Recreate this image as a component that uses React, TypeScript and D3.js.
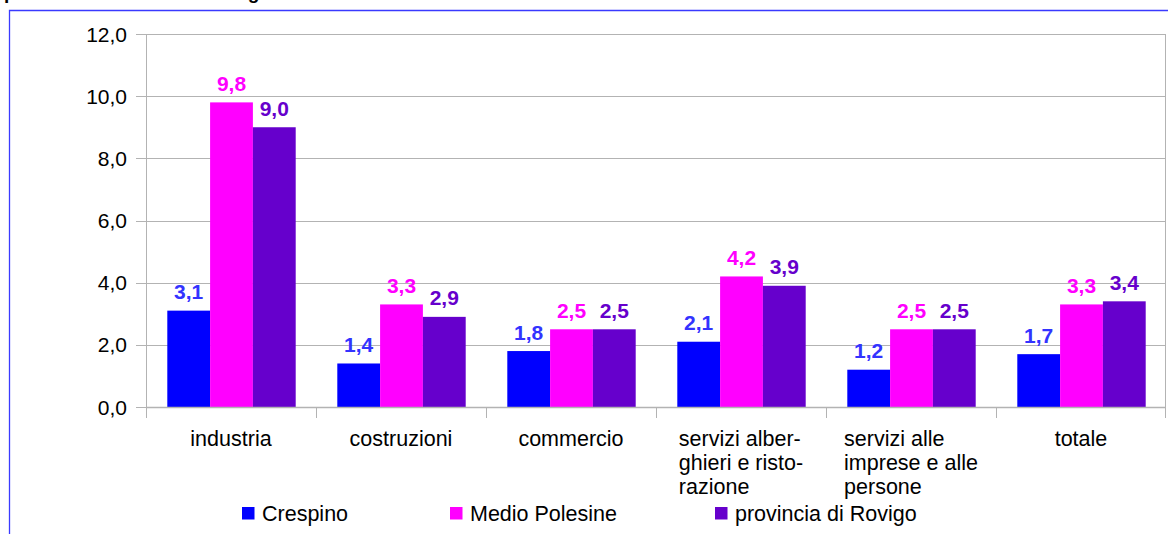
import { useEffect, useRef } from "react";
import * as d3 from "d3";

const CATEGORIES = [
  "industria",
  "costruzioni",
  "commercio",
  "servizi alber-\nghieri e risto-\nrazione",
  "servizi alle\nimprese e alle\npersone",
  "totale",
];

const SERIES = ["Crespino", "Medio Polesine", "provincia di Rovigo"];

const CRESPINO = [3.1, 1.4, 1.8, 2.1, 1.2, 1.7];
const MEDIO_POLESINE = [9.8, 3.3, 2.5, 4.2, 2.5, 3.3];
const PROVINCIA_ROVIGO = [9.0, 2.9, 2.5, 3.9, 2.5, 3.4];

const Y_TICKS = [0, 2, 4, 6, 8, 10, 12];

const TITLE = "percentuale di titolari di origine straniera";

const BAR_COLORS = ["#0000ff", "#ff00ff", "#6600cc"];
const LABEL_COLORS = ["#3333ff", "#ff00ff", "#6600cc"];

const W = 1168;
const H = 534;
const FONT = "'Liberation Sans', Arial, sans-serif";

const fmt = (v: number) => v.toFixed(1).replace(".", ",");

export default function App() {
  const svgRef = useRef<SVGSVGElement | null>(null);

  useEffect(() => {
    document.body.style.margin = "0";
    const svg = d3.select(svgRef.current);
    svg.selectAll("*").remove();

    const plot = { left: 146, right: 1166, top: 34, bottom: 407 };
    const values = [CRESPINO, MEDIO_POLESINE, PROVINCIA_ROVIGO];

    // cut-off title at the very top
    svg
      .append("text")
      .attr("x", 4)
      .attr("y", -1)
      .attr("font-family", FONT)
      .attr("font-size", 19)
      .attr("font-weight", "bold")
      .attr("fill", "#000")
      .text(TITLE);

    // blue frame
    svg
      .append("path")
      .attr("d", `M9.5,${H} L9.5,10.5 L${W},10.5`)
      .attr("fill", "none")
      .attr("stroke", "#3a3aff")
      .attr("stroke-width", 1.3);

    const x = d3
      .scaleBand<string>()
      .domain(CATEGORIES)
      .range([plot.left, plot.right])
      .paddingInner(0)
      .paddingOuter(0);

    const xInner = d3
      .scaleBand<string>()
      .domain(SERIES)
      .range([21.3, x.bandwidth() - 20.3]);

    const y = d3.scaleLinear().domain([0, 12]).range([plot.bottom, plot.top]);

    // grid lines
    svg
      .append("g")
      .selectAll("line")
      .data(Y_TICKS)
      .join("line")
      .attr("x1", plot.left - 10)
      .attr("x2", plot.right)
      .attr("y1", (d) => Math.round(y(d)) + 0.5)
      .attr("y2", (d) => Math.round(y(d)) + 0.5)
      .attr("stroke", "#b3b3b3")
      .attr("stroke-width", 1);

    // y tick labels
    svg
      .append("g")
      .selectAll("text")
      .data(Y_TICKS)
      .join("text")
      .attr("x", 127)
      .attr("y", (d) => y(d) + 7.5)
      .attr("text-anchor", "end")
      .attr("font-family", FONT)
      .attr("font-size", 21)
      .attr("fill", "#000")
      .text((d) => fmt(d));

    // bars
    const groups = svg
      .append("g")
      .selectAll("g")
      .data(CATEGORIES)
      .join("g")
      .attr("transform", (c) => `translate(${x(c)},0)`);

    SERIES.forEach((s, si) => {
      groups
        .append("rect")
        .attr("x", xInner(s)!)
        .attr("width", xInner.bandwidth())
        .attr("y", (_, ci) => y(values[si][ci]))
        .attr("height", (_, ci) => plot.bottom - y(values[si][ci]))
        .attr("fill", BAR_COLORS[si]);

      groups
        .append("text")
        .attr("x", xInner(s)! + xInner.bandwidth() / 2)
        .attr("y", (_, ci) => y(values[si][ci]) - 11.5)
        .attr("text-anchor", "middle")
        .attr("font-family", FONT)
        .attr("font-size", 21)
        .attr("font-weight", "bold")
        .attr("fill", LABEL_COLORS[si])
        .text((_, ci) => fmt(values[si][ci]));
    });

    // axes lines
    svg
      .append("line")
      .attr("x1", plot.left + 0.5)
      .attr("x2", plot.left + 0.5)
      .attr("y1", plot.top)
      .attr("y2", plot.bottom + 11)
      .attr("stroke", "#b3b3b3");
    svg
      .append("line")
      .attr("x1", plot.right - 0.5)
      .attr("x2", plot.right - 0.5)
      .attr("y1", plot.top)
      .attr("y2", plot.bottom + 11)
      .attr("stroke", "#b3b3b3");
    svg
      .append("line")
      .attr("x1", plot.left)
      .attr("x2", plot.right)
      .attr("y1", plot.bottom + 0.5)
      .attr("y2", plot.bottom + 0.5)
      .attr("stroke", "#b3b3b3")
      .attr("stroke-width", 1.5);

    // category separators
    svg
      .append("g")
      .selectAll("line")
      .data(CATEGORIES.slice(1))
      .join("line")
      .attr("x1", (c) => Math.round(x(c)!) + 0.5)
      .attr("x2", (c) => Math.round(x(c)!) + 0.5)
      .attr("y1", plot.bottom)
      .attr("y2", plot.bottom + 11)
      .attr("stroke", "#b3b3b3");

    // category labels: left-aligned block, centered under band
    CATEGORIES.forEach((c) => {
      const lines = c.split("\n");
      const t = svg
        .append("text")
        .attr("font-family", FONT)
        .attr("font-size", 21.5)
        .attr("fill", "#000");
      lines.forEach((ln, i) => {
        t.append("tspan")
          .attr("x", 0)
          .attr("y", 446 + i * 24)
          .text(ln);
      });
      const node = t.node() as SVGTextElement;
      const bw = node.getBBox().width;
      const cx = x(c)! + x.bandwidth() / 2;
      t.selectAll("tspan").attr("x", cx - bw / 2);
    });

    // legend
    const legendX = [242, 450, 715];
    SERIES.forEach((s, i) => {
      svg
        .append("rect")
        .attr("x", legendX[i])
        .attr("y", 507)
        .attr("width", 12.5)
        .attr("height", 12.5)
        .attr("fill", BAR_COLORS[i]);
      svg
        .append("text")
        .attr("x", legendX[i] + 20)
        .attr("y", 521)
        .attr("font-family", FONT)
        .attr("font-size", 21.5)
        .attr("fill", "#000")
        .text(s);
    });
  }, []);

  return (
    <svg
      ref={svgRef}
      width={W}
      height={H}
      style={{ display: "block", background: "#fff" }}
    />
  );
}
